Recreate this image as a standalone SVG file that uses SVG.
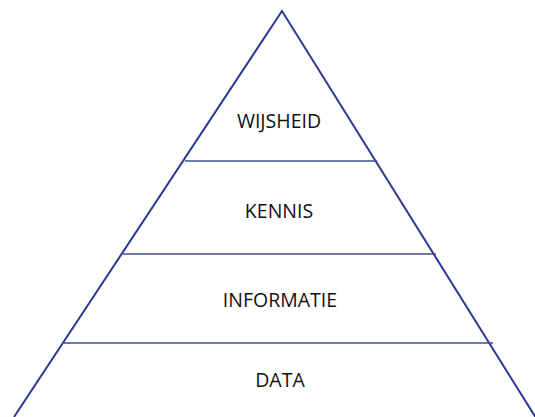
<svg xmlns="http://www.w3.org/2000/svg" width="535" height="417" viewBox="0 0 535 417">
<style>
.edge{stroke:#2b3990;stroke-width:2;fill:none;stroke-linecap:butt}
.div{stroke:#3d4c95;stroke-width:1.3;fill:none}
.lbl{font-family:"Open Sans","Noto Sans",sans-serif;font-size:19.5px;fill:#111;text-anchor:middle}
</style>
<rect width="535" height="417" fill="#fff"/>
<g id="connectors">
<path class="edge" d="M14,417 L282,11 L536,418"/>
<line class="div" x1="185" y1="161" x2="377" y2="161"/>
<line class="div" x1="123" y1="254" x2="436" y2="254"/>
<line class="div" x1="64" y1="343" x2="493" y2="343"/>
</g>
<g id="wijsheid"><text class="lbl" x="279" y="128">WIJSHEID</text></g>
<g id="kennis"><text class="lbl" x="279" y="218">KENNIS</text></g>
<g id="informatie"><text class="lbl" x="280" y="307">INFORMATIE</text></g>
<g id="data"><text class="lbl" x="280" y="387">DATA</text></g>
</svg>
